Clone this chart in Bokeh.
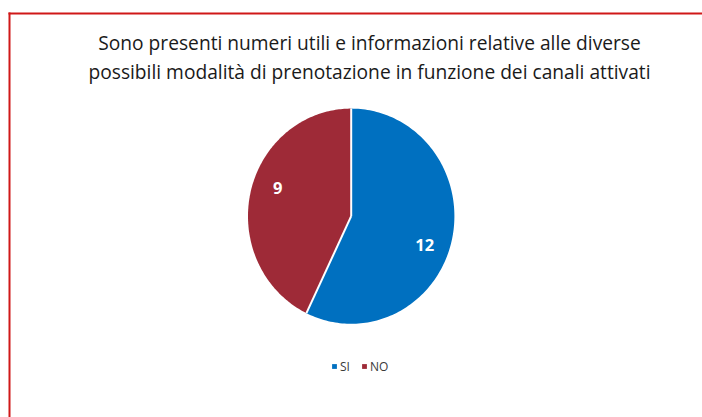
import numpy as np
from bokeh.plotting import figure
from bokeh.models import Range1d, Label, BoxAnnotation, ColumnDataSource, Legend, LegendItem
from bokeh.core.properties import value
from bokeh.embed import file_html
from bokeh.resources import INLINE

# ---- data ----
title_lines = ["Sono presenti numeri utili e informazioni relative alle diverse",
               "possibili modalità di prenotazione in funzione dei canali attivati"]
categories = ["SI", "NO"]
values = [12, 9]
colors = ["#0070C0", "#9E2A37"]

W, H = 702, 417
p = figure(width=W, height=H, output_backend="svg", toolbar_location=None,
           x_range=Range1d(0, W), y_range=Range1d(0, H), min_border=0,
           background_fill_color="white", border_fill_color="white")
p.axis.visible = False
p.grid.visible = False
p.outline_line_color = None

# red chart border (left + top, continues beyond the window) drawn as thin filled bars
border_red = "#D01818"
p.add_layout(BoxAnnotation(left=8, right=W, top=H - 12, bottom=H - 14,
                           fill_color=border_red, fill_alpha=1.0, line_color=None))
p.add_layout(BoxAnnotation(left=8, right=10, top=H - 12, bottom=0,
                           fill_color=border_red, fill_alpha=1.0, line_color=None))

# title
for i, t in enumerate(title_lines):
    p.add_layout(Label(x=369, y=375 - 29 * i, text=t, text_align="center",
                       text_baseline="middle", text_font="Open Sans",
                       text_font_size="19.2px", text_color="#1a1a1a"))

# pie (slightly elliptical as in the reference)
cx, cy, rx, ry = 350.7, 201.3, 103.2, 107.6
total = float(sum(values))
fr = np.array(values) / total
cum = np.concatenate([[0], np.cumsum(fr)])
xs, ys, lx, ly, sx, sy = [], [], [], [], [], []
for i in range(len(values)):
    a0 = np.pi / 2 - 2 * np.pi * cum[i]
    a1 = np.pi / 2 - 2 * np.pi * cum[i + 1]
    th = np.linspace(a0, a1, 160)
    xs.append(np.concatenate([[cx], cx + rx * np.cos(th)]).tolist())
    ys.append(np.concatenate([[cy], cy + ry * np.sin(th)]).tolist())
    sx.append([cx, cx + rx * np.cos(a0)])
    sy.append([cy, cy + ry * np.sin(a0)])
    mid = (a0 + a1) / 2 - np.radians(7.5)
    lx.append(cx + 0.76 * rx * np.cos(mid))
    ly.append(cy + 0.76 * ry * np.sin(mid))

renderers = []
for i in range(len(values)):
    src = ColumnDataSource(dict(xs=[xs[i]], ys=[ys[i]]))
    r = p.patches("xs", "ys", source=src, fill_color=colors[i], line_color=None)
    renderers.append(r)

# white slice separators
p.multi_line(sx, sy, line_color="white", line_width=2)

lsrc = ColumnDataSource(dict(x=lx, y=ly, t=[str(v) for v in values]))
p.text("x", "y", text="t", source=lsrc, text_align="center", text_baseline="middle",
       text_color="white", text_font=value("Open Sans"), text_font_style="bold",
       text_font_size="16.5px")

legend = Legend(items=[LegendItem(label=c, renderers=[r]) for c, r in zip(categories, renderers)],
                orientation="horizontal", location=(331, 41),
                glyph_width=6, glyph_height=6, label_standoff=3, spacing=11,
                label_width=8, label_height=20,
                padding=0, margin=0, border_line_color=None,
                background_fill_alpha=0, label_text_font="Open Sans",
                label_text_font_size="12px", label_text_color="#3a3a3a")
p.add_layout(legend, "center")

open("out.html", "w").write(file_html(p, INLINE))
